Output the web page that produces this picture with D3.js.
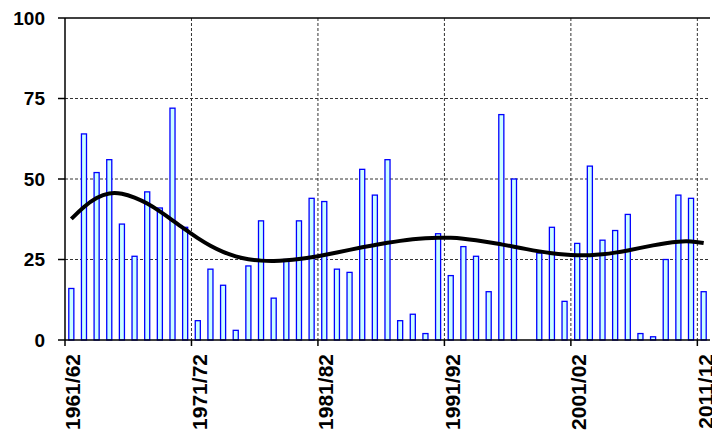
<!DOCTYPE html>
<html>
<head>
<meta charset="utf-8">
<script src="https://cdn.jsdelivr.net/npm/d3@7"></script>
<style>
  body { margin: 0; background: #fff; }
  .grid line { stroke: #333; stroke-width: 1; stroke-dasharray: 3,2; }
</style>
</head>
<body>
<div id="chart"></div>
<script>
// seasons 1961/62 .. 2011/12
var seasons = d3.range(1961, 2012).map(function (y) {
    return y + "/" + String((y + 1) % 100).padStart(2, "0");
});
var values = [16, 64, 52, 56, 36, 26, 46, 41, 72, 35,
              6, 22, 17, 3, 23, 37, 13, 25, 37, 44,
              43, 22, 21, 53, 45, 56, 6, 8, 2, 33,
              20, 29, 26, 15, 70, 50, 0, 27, 35, 12,
              30, 54, 31, 34, 39, 2, 1, 25, 45, 44,
              15];
// trend line
var trend = [37.6, 41.5, 44.3, 45.8, 45.6, 44.3, 42.5, 40.0, 37.2, 34.3,
             31.6, 29.2, 27.3, 25.9, 25.0, 24.6, 24.5, 24.7, 25.1, 25.7,
             26.4, 27.2, 28.0, 28.8, 29.5, 30.2, 30.8, 31.3, 31.6, 31.8,
             31.8, 31.5, 31.0, 30.4, 29.7, 29.0, 28.2, 27.5, 26.9, 26.5,
             26.3, 26.3, 26.6, 27.1, 27.8, 28.6, 29.4, 30.1, 30.6, 30.7,
             30.1];
var yTicks = [0, 25, 50, 75, 100];
var xLabels = ["1961/62", "1971/72", "1981/82", "1991/92", "2001/02", "2011/12"];

var width = 712, height = 434;
var margin = { left: 65, right: 2, top: 18, bottom: 94 };
var w = width - margin.left - margin.right;
var h = height - margin.top - margin.bottom;
var font = "'Liberation Sans', Arial, sans-serif";

var svg = d3.select("#chart").append("svg")
    .attr("width", width).attr("height", height);
var g = svg.append("g").attr("transform", "translate(" + margin.left + "," + margin.top + ")");

var x = d3.scaleBand().domain(seasons).range([0, w]).paddingInner(0.6).paddingOuter(0.3);
var y = d3.scaleLinear().domain([0, 100]).range([h, 0]);

// left edge of a category
function catLeft(s) { return seasons.indexOf(s) * w / seasons.length; }

// gridlines
g.append("g").attr("class", "grid")
    .selectAll("line").data([25, 50, 75]).join("line")
    .attr("x1", 0).attr("x2", w)
    .attr("y1", d => y(d)).attr("y2", d => y(d));

g.append("g").attr("class", "grid")
    .selectAll("line").data(xLabels.slice(1)).join("line")
    .attr("x1", d => catLeft(d)).attr("x2", d => catLeft(d))
    .attr("y1", 0).attr("y2", h);

// top border
g.append("line").attr("x1", 0).attr("x2", w).attr("y1", 0).attr("y2", 0)
    .attr("stroke", "#000").attr("stroke-width", 1.5);

// bars
g.selectAll("rect.bar").data(values).join("rect")
    .attr("class", "bar")
    .attr("x", (d, i) => x(seasons[i]))
    .attr("width", x.bandwidth())
    .attr("y", d => y(d))
    .attr("height", d => h - y(d))
    .attr("fill", "#ccffff")
    .attr("stroke", d => d > 0 ? "#0000ff" : "none")
    .attr("stroke-width", 1.3);

// trend line
var line = d3.line()
    .x((d, i) => x(seasons[i]) + x.bandwidth() / 2)
    .y(d => y(d))
    .curve(d3.curveBasis);
g.append("path").datum(trend)
    .attr("d", line)
    .attr("fill", "none")
    .attr("stroke", "#000")
    .attr("stroke-width", 4);

// y axis
g.append("line").attr("x1", 0).attr("x2", 0).attr("y1", 0).attr("y2", h)
    .attr("stroke", "#000").attr("stroke-width", 1.5);
g.selectAll("line.ytick").data(yTicks).join("line")
    .attr("class", "ytick")
    .attr("x1", -7).attr("x2", 0)
    .attr("y1", d => y(d)).attr("y2", d => y(d))
    .attr("stroke", "#000").attr("stroke-width", 1.5);
g.selectAll("text.ylab").data(yTicks).join("text")
    .attr("class", "ylab")
    .attr("x", -20).attr("y", d => y(d))
    .attr("dy", "0.36em")
    .attr("text-anchor", "end")
    .attr("font-family", font)
    .attr("font-weight", "bold")
    .attr("font-size", 19)
    .text(d => d);

// x axis
g.append("line").attr("x1", 0).attr("x2", w).attr("y1", h).attr("y2", h)
    .attr("stroke", "#000").attr("stroke-width", 1.5);
g.selectAll("line.xtick").data(xLabels).join("line")
    .attr("class", "xtick")
    .attr("x1", d => catLeft(d)).attr("x2", d => catLeft(d))
    .attr("y1", h).attr("y2", h + 6)
    .attr("stroke", "#000").attr("stroke-width", 1.5);
g.selectAll("text.xlab").data(xLabels).join("text")
    .attr("class", "xlab")
    .attr("transform", d => "translate(" + (x(d) + x.bandwidth() / 2 + 9) + "," + (h + 14) + ") rotate(-90)")
    .attr("text-anchor", "end")
    .attr("font-family", font)
    .attr("font-weight", "bold")
    .attr("font-size", 21)
    .text(d => d);
</script>
</body>
</html>
